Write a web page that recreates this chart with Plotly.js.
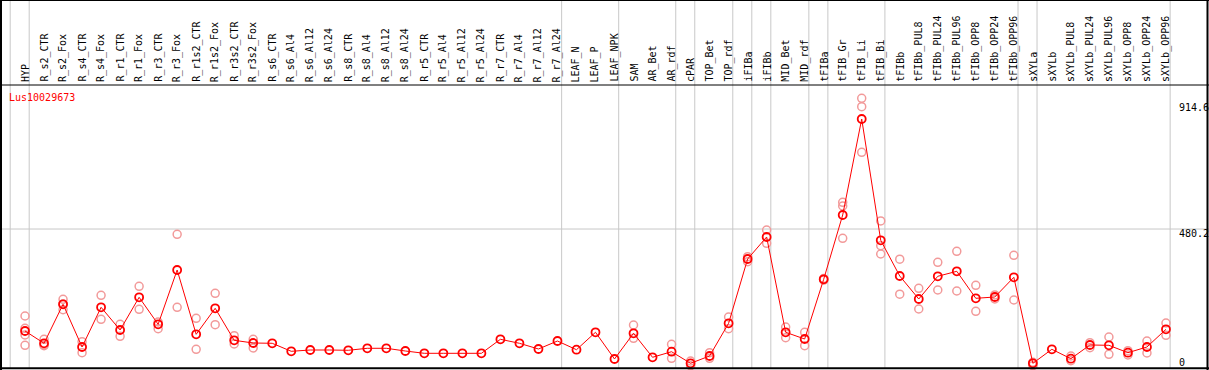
<!DOCTYPE html>
<html>
<head>
<meta charset="utf-8">
<script src="https://cdn.plot.ly/plotly-3.0.1.min.js"></script>
<style>
  html, body { margin: 0; padding: 0; background: #ffffff; }
  #chart { width: 1209px; height: 370px; }
</style>
</head>
<body>
<div id="chart"></div>
<script>
const chartTitle = "Lus10029673";

const categories = [
  "HYP", "R_s2_CTR", "R_s2_Fox", "R_s4_CTR", "R_s4_Fox", "R_r1_CTR", "R_r1_Fox",
  "R_r3_CTR", "R_r3_Fox", "R_r1s2_CTR", "R_r1s2_Fox", "R_r3s2_CTR", "R_r3s2_Fox",
  "R_s6_CTR", "R_s6_Al4", "R_s6_Al12", "R_s6_Al24", "R_s8_CTR", "R_s8_Al4",
  "R_s8_Al12", "R_s8_Al24", "R_r5_CTR", "R_r5_Al4", "R_r5_Al12", "R_r5_Al24",
  "R_r7_CTR", "R_r7_Al4", "R_r7_Al12", "R_r7_Al24", "LEAF_N", "LEAF_P", "LEAF_NPK",
  "SAM", "AR_Bet", "AR_rdf", "cPAR", "TOP_Bet", "TOP_rdf", "iFIBa", "iFIBb",
  "MID_Bet", "MID_rdf", "tFIBa", "tFIB_Gr", "tFIB_Li", "tFIB_Bi", "tFIBb",
  "tFIBb_PUL8", "tFIBb_PUL24", "tFIBb_PUL96", "tFIBb_OPP8", "tFIBb_OPP24", "tFIBb_OPP96",
  "sXYLa", "sXYLb", "sXYLb_PUL8", "sXYLb_PUL24", "sXYLb_PUL96", "sXYLb_OPP8",
  "sXYLb_OPP24", "sXYLb_OPP96"
];

const means = [
  127.9, 85.4, 220.1, 72.6, 209.7, 131.3, 244.3, 151.0, 338.6, 116.4, 206.3, 95.7, 86.4,
  85.4, 57.7, 62.2, 62.2, 61.2, 68.1, 68.1, 58.7, 50.8, 50.8, 50.8, 50.8,
  99.2, 85.4, 65.7, 93.3, 63.2, 123.4, 31.1,
  119.9, 37.0, 56.3, 16.2, 41.5, 154.5, 376.6, 452.7, 123.4, 100.2,
  306.5, 528.7, 860.4, 441.3, 317.9, 238.4, 316.9, 334.1, 240.8, 245.3, 313.4,
  16.2, 64.6, 32.1, 79.5, 78.4, 52.9, 72.6, 133.7
];

const replicates = [
  [179.7, 137.2, 114.0, 78.4], [99.2, 77.1, 79.5], [237.4, 221.2, 201.5], [90.9, 52.9],
  [251.2, 168.3], [151.0, 109.5], [282.3, 202.8], [159.0, 135.8], [462.0, 209.7],
  [171.7, 64.6], [258.1, 149.6], [111.6, 82.9], [99.2, 69.1],
  [], [], [], [], [], [], [], [], [], [], [], [], [], [], [], [], [], [], [],
  [148.6, 102.6], [], [81.9, 33.5], [24.2, 7.9], [52.9, 33.5], [176.2, 135.8],
  [384.6, 367.3], [476.9, 430.9], [141.7, 104.7], [123.4, 77.1],
  [309.0, 304.0], [572.6, 559.8, 448.2], [932.0, 902.9, 745.3], [508.0, 422.6, 393.9],
  [376.0, 255.0], [275.4, 203.9], [365.2, 269.5], [403.3, 266.1], [285.8, 195.9],
  [252.3, 238.4], [389.4, 235.0],
  [19.7, 7.9], [], [41.5, 25.2], [87.4, 70.1], [107.1, 47.3], [59.8, 44.9],
  [93.3, 51.8], [155.5, 113.0]
];

// group separators: a vertical rule after these category indices
const groupEnds = [-1, 0, 28, 31, 34, 35, 37, 38, 39, 41, 42, 45, 52, 53, 60];
const yTickValues = [0, 480.2, 914.6];
const yTickLabels = ["0", "480.2", "914.6"];

const W = 1209, H = 370;
const mono = "DejaVu Sans Mono, monospace";
const idx = categories.map((c, i) => i);

const repX = [], repY = [];
replicates.forEach((arr, i) => arr.forEach(v => { repX.push(i); repY.push(v); }));

const traces = [
  {
    x: repX, y: repY, type: "scatter", mode: "markers",
    marker: { symbol: "circle-open", size: 8, color: "#f29a9a", line: { width: 1.5, color: "#f29a9a" } },
    hoverinfo: "skip", showlegend: false
  },
  {
    x: idx, y: means, type: "scatter", mode: "lines+markers",
    line: { color: "#ff0000", width: 1 },
    marker: { symbol: "circle-open", size: 8, color: "#ff0000", line: { width: 1.8, color: "#ff0000" } },
    showlegend: false
  }
];

const shapes = [];
groupEnds.forEach(g => {
  shapes.push({ type: "line", layer: "below", xref: "x", yref: "paper",
    x0: g + 0.22, x1: g + 0.22, y0: 2 / H, y1: 1,
    line: { color: "#c8c8c8", width: 1 } });
});
shapes.push({ type: "line", layer: "below", xref: "paper", yref: "y",
  x0: 0, x1: 1, y0: yTickValues[1], y1: yTickValues[1],
  line: { color: "#c8c8c8", width: 1 } });
// frame
const black = { color: "#000000", width: 2 };
shapes.push({ type: "line", xref: "paper", yref: "paper", x0: 0, x1: 1, y0: 1, y1: 1, line: black });
shapes.push({ type: "line", xref: "paper", yref: "paper", x0: 0, x1: 1, y0: 1.7 / H, y1: 1.7 / H, line: black });
shapes.push({ type: "line", xref: "paper", yref: "paper", x0: 1 / W, x1: 1 / W, y0: 0, y1: 1, line: black });
shapes.push({ type: "line", xref: "paper", yref: "paper", x0: 1207.5 / W, x1: 1207.5 / W, y0: 0, y1: 1, line: black });
shapes.push({ type: "line", xref: "paper", yref: "paper", x0: 0, x1: 1, y0: (H - 85) / H, y1: (H - 85) / H,
  line: { color: "#000000", width: 1 } });

const annotations = [];
categories.forEach((c, i) => {
  annotations.push({ text: c, xref: "x", yref: "paper", x: i, y: (H - 83) / H,
    xanchor: "center", yanchor: "bottom", textangle: -90, showarrow: false, borderpad: 0,
    font: { family: mono, size: 10, color: "#000000" } });
});
annotations.push({ text: chartTitle, xref: "paper", yref: "paper", x: 8 / W, y: 1 - 97 / H,
  xanchor: "left", yanchor: "middle", showarrow: false, borderpad: 0,
  font: { family: mono, size: 10, color: "#ff0000" } });
yTickValues.forEach((v, k) => {
  annotations.push({ text: yTickLabels[k], xref: "paper", yref: "y", x: 1178 / W, y: v,
    xanchor: "left", yanchor: "middle", yshift: v === 0 ? 6 : -4, showarrow: false, borderpad: 0,
    font: { family: mono, size: 10, color: "#000000" } });
});

const layout = {
  width: W, height: H,
  margin: { l: 0, r: 0, t: 0, b: 0, pad: 0 },
  paper_bgcolor: "#ffffff", plot_bgcolor: "#ffffff",
  xaxis: { range: [(1 - 26) / 19, (1209 - 26) / 19], showgrid: false, zeroline: false,
    showticklabels: false, showline: false, fixedrange: true },
  yaxis: { range: [-2 / 0.2894, 368 / 0.2894], showgrid: false, zeroline: false,
    showticklabels: false, showline: false, fixedrange: true },
  shapes: shapes,
  annotations: annotations,
  showlegend: false
};

Plotly.newPlot("chart", traces, layout, { staticPlot: true, displayModeBar: false });
</script>
</body>
</html>
